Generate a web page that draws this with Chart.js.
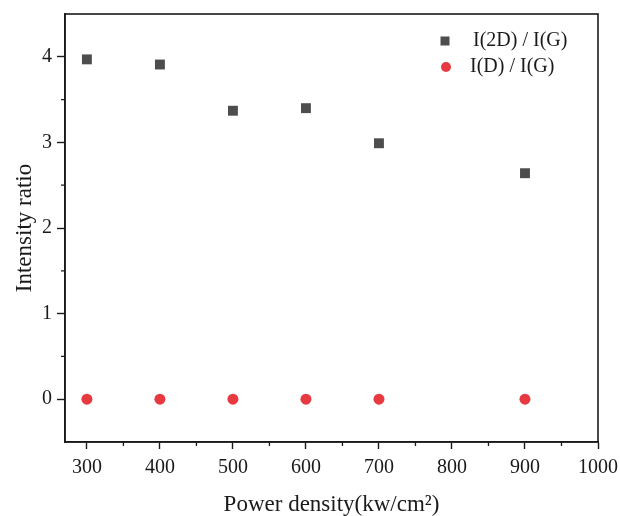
<!DOCTYPE html>
<html>
<head>
<meta charset="utf-8">
<script src="https://cdn.jsdelivr.net/npm/chart.js@4/dist/chart.umd.min.js"></script>
<style>
  html, body { margin: 0; padding: 0; background: #fff; }
  #wrap { width: 620px; height: 516px; }
</style>
</head>
<body>
<div id="wrap"><canvas id="ratioChart" width="620" height="516"></canvas></div>
<script>
// values
const powerDensity = [300, 400, 500, 600, 700, 900];
const ratio2DG = [3.97, 3.91, 3.37, 3.40, 2.99, 2.64];
const ratioDG = [0, 0, 0, 0, 0, 0];
const seriesNames = ["I(2D) / I(G)", "I(D) / I(G)"];
const xTicks = [300, 400, 500, 600, 700, 800, 900, 1000];
const yTicks = [0, 1, 2, 3, 4];

const SERIF = "'Liberation Serif', 'Times New Roman', serif";
const INK = "#1a1a1a";

// frame + minor ticks, origin style
const framePlugin = {
    id: "frame",
    afterDraw(chart) {
        const { ctx, chartArea: a, scales } = chart;
        ctx.save();
        ctx.strokeStyle = INK;
        ctx.lineWidth = 1.6;
        ctx.strokeRect(a.left, a.top, a.right - a.left, a.bottom - a.top);
        ctx.lineWidth = 1.3;
        ctx.beginPath();
        for (let v = 350; v < 1000; v += 100) {
            const px = scales.x.getPixelForValue(v);
            ctx.moveTo(px, a.bottom);
            ctx.lineTo(px, a.bottom + 4);
        }
        for (let v = 0.5; v < 4.5; v += 1) {
            const py = scales.y.getPixelForValue(v);
            ctx.moveTo(a.left, py);
            ctx.lineTo(a.left - 4, py);
        }
        ctx.stroke();
        ctx.restore();
    },
};

// legend inside the plot, top right
const insideLegend = {
    id: "insideLegend",
    afterDraw(chart) {
        const { ctx, chartArea: a } = chart;
        const rows = [
            { x: a.left + 380, y: a.top + 27, textX: a.left + 408 },
            { x: a.left + 381, y: a.top + 53, textX: a.left + 405 },
        ];
        ctx.save();
        ctx.font = "20px " + SERIF;
        ctx.textBaseline = "middle";
        chart.data.datasets.forEach((ds, i) => {
            const r = rows[i];
            ctx.fillStyle = ds.backgroundColor;
            if (ds.pointStyle === "rect") {
                ctx.fillRect(r.x - 4.5, r.y - 4.5, 9, 9);
            } else {
                ctx.beginPath();
                ctx.arc(r.x, r.y, 5, 0, Math.PI * 2);
                ctx.fill();
            }
            ctx.fillStyle = INK;
            ctx.fillText(ds.label, r.textX, r.y);
        });
        ctx.restore();
    },
};

const ctx = document.getElementById("ratioChart");
new Chart(ctx, {
    type: "scatter",
    data: {
        datasets: [
            {
                label: seriesNames[0],
                data: powerDensity.map((x, i) => ({ x: x, y: ratio2DG[i] })),
                pointStyle: "rect",
                pointRadius: 7,
                pointHoverRadius: 7,
                backgroundColor: "#4d4d4d",
                borderColor: "#4d4d4d",
                borderWidth: 0,
            },
            {
                label: seriesNames[1],
                data: powerDensity.map((x, i) => ({ x: x, y: ratioDG[i] })),
                pointStyle: "circle",
                pointRadius: 5.5,
                pointHoverRadius: 5.5,
                backgroundColor: "#e63a40",
                borderColor: "#e63a40",
                borderWidth: 0,
            },
        ],
    },
    options: {
        responsive: false,
        animation: false,
        layout: { padding: { top: 14, right: 22, left: 0, bottom: 0 } },
        plugins: {
            legend: { display: false },
            tooltip: { enabled: false },
        },
        scales: {
            x: {
                type: "linear",
                min: 270,
                max: 1000,
                afterBuildTicks: (s) => { s.ticks = xTicks.map((v) => ({ value: v })); },
                afterFit: (s) => { s.height = 74; s.paddingLeft = 0; s.paddingRight = 0; },
                grid: { drawOnChartArea: false, tickLength: 7, tickWidth: 1.4, tickColor: INK },
                border: { display: true, color: INK, width: 1.6 },
                ticks: {
                    color: INK,
                    padding: 7,
                    font: { family: SERIF, size: 20 },
                    callback: (v) => String(v),
                },
                title: {
                    display: true,
                    text: "Power density(kw/cm²)",
                    color: INK,
                    padding: { top: 0, bottom: 0 },
                    font: { family: SERIF, size: 23, lineHeight: 1 },
                },
            },
            y: {
                min: -0.5,
                max: 4.5,
                afterBuildTicks: (s) => { s.ticks = yTicks.map((v) => ({ value: v })); },
                afterFit: (s) => { s.width = 65; s.paddingTop = 0; s.paddingBottom = 0; },
                grid: { drawOnChartArea: false, tickLength: 8, tickWidth: 1.4, tickColor: INK },
                border: { display: true, color: INK, width: 1.6 },
                ticks: {
                    color: INK,
                    padding: 5,
                    font: { family: SERIF, size: 20 },
                },
                title: {
                    display: true,
                    text: "Intensity ratio",
                    color: INK,
                    padding: { top: 13, bottom: 0 },
                    font: { family: SERIF, size: 23, lineHeight: 1 },
                },
            },
        },
    },
    plugins: [framePlugin, insideLegend],
});
</script>
</body>
</html>
